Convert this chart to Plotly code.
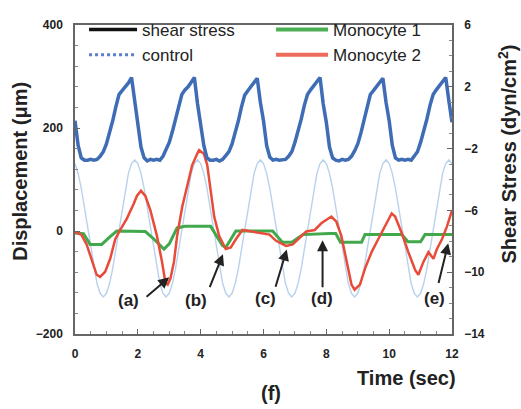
import plotly.graph_objects as go

# ---------------- data ----------------
time_grid = [i / 10 for i in range(121)]

shear_stress = [
    -0.2, -1.8, -2.6, -2.75, -2.75, -2.7, -2.75, -2.7, -2.5, -2.2, -1.7, -1.0, -0.2, 0.7, 1.5, 1.75, 2.0, 2.25, 2.6, 1.0,
    -0.3, -1.9, -2.6, -2.8, -2.7, -2.75, -2.7, -2.75, -2.5, -2.1, -1.6, -0.9, -0.1, 0.8, 1.5, 1.8, 2.0, 2.3, 2.6, 0.9,
    -0.3, -1.8, -2.6, -2.75, -2.75, -2.7, -2.8, -2.7, -2.45, -2.2, -1.7, -1.0, -0.2, 0.7, 1.45, 1.75, 2.05, 2.25, 2.55, 1.0,
    -0.2, -1.8, -2.55, -2.75, -2.7, -2.75, -2.75, -2.7, -2.5, -2.2, -1.6, -0.9, -0.1, 0.8, 1.5, 1.8, 2.1, 2.35, 2.6, 0.9,
    -0.3, -1.9, -2.6, -2.75, -2.8, -2.7, -2.75, -2.7, -2.5, -2.15, -1.7, -1.0, -0.2, 0.7, 1.5, 1.75, 2.0, 2.25, 2.55, 1.0,
    -0.2, -1.8, -2.6, -2.75, -2.7, -2.75, -2.7, -2.75, -2.5, -2.2, -1.6, -0.9, -0.1, 0.8, 1.5, 1.8, 2.05, 2.3, 2.6, 1.1,
    -0.3,
]

control = [
    131, 112, 83, 46, 5, -36, -73, -102, -121, -128, -121, -102, -73, -36, 5, 46, 83, 112, 131, 138,
    131, 112, 83, 46, 5, -36, -73, -102, -121, -128, -121, -102, -73, -36, 5, 46, 83, 112, 131, 138,
    131, 112, 83, 46, 5, -36, -73, -102, -121, -128, -121, -102, -73, -36, 5, 46, 83, 112, 131, 138,
    131, 112, 83, 46, 5, -36, -73, -102, -121, -128, -121, -102, -73, -36, 5, 46, 83, 112, 131, 138,
    131, 112, 83, 46, 5, -36, -73, -102, -121, -128, -121, -102, -73, -36, 5, 46, 83, 112, 131, 138,
    131, 112, 83, 46, 5, -36, -73, -102, -121, -128, -121, -102, -73, -36, 5, 46, 83, 112, 131, 138,
    131,
]

mono1_t = [0.0, 0.27, 0.48, 0.85, 1.1, 1.33, 2.24, 2.5, 2.83, 3.0, 3.25, 3.5, 4.32, 4.69, 4.8, 5.12,
           6.29, 6.6, 6.9, 7.25, 8.1, 8.3, 8.45, 9.12, 9.23, 10.4, 10.6, 11.0, 11.14, 12.0]
mono1_y = [-4, -5, -26, -26, -12, 0, -1, -15, -35, -25, 6, 9, 9, -28, -32, 0,
           0, -22, -22, -7, -5, -5, -22, -22, -7, -7, -21, -21, -7, -7]

mono2_t = [0.0, 0.2, 0.37, 0.53, 0.69, 0.8, 0.96, 1.12, 1.28, 1.44, 1.65, 1.87, 1.97, 2.1, 2.24, 2.4,
           2.61, 2.77, 2.88, 2.95, 3.04, 3.15, 3.25, 3.41, 3.57, 3.73, 3.89, 3.95, 4.1, 4.21, 4.32,
           4.43, 4.59, 4.8, 4.96, 5.12, 5.33, 5.65, 5.97, 6.19, 6.4, 6.72, 6.93, 7.15, 7.36, 7.63,
           7.84, 8.16, 8.32, 8.48, 8.64, 8.8, 8.9, 9.07, 9.23, 9.44, 9.65, 9.87, 10.08, 10.19, 10.4,
           10.61, 10.83, 10.93, 11.09, 11.25, 11.41, 11.52, 11.68, 11.84, 12.0]
mono2_y = [-3, -7, -26, -54, -85, -89, -79, -54, -16, 2, 24, 53, 68, 78, 68, 40,
           -10, -60, -101, -104, -92, -60, -10, 46, 90, 128, 150, 157, 150, 128, 78,
           28, -10, -35, -32, -16, 2, -1, -4, -7, -19, -29, -26, -13, -1, 2,
           15, 28, 18, -10, -54, -104, -114, -104, -73, -41, -16, 9, 34, 28, -4,
           -41, -76, -85, -60, -41, -54, -35, -16, 9, 40]

# annotation labels: text position, arrow tail and arrow head (data units)
marker_labels = ["(a)", "(b)", "(c)", "(d)", "(e)"]
label_x = [1.69, 3.85, 6.07, 7.85, 11.43]
label_y = [-134, -134, -132, -132, -132]
tail_x = [2.23, 4.27, 6.37, 7.88, 11.56]
tail_y = [-130, -112, -111, -112, -104]
head_x = [3.0, 4.71, 6.74, 7.88, 11.88]
head_y = [-90, -45, -36, -18, -24]

FONT = "Liberation Sans, Arial, sans-serif"

fig = go.Figure()

# data traces
fig.add_trace(go.Scatter(x=time_grid, y=control, mode="lines",
                         line=dict(color="#b8d2ec", width=1.4), showlegend=False))
fig.add_trace(go.Scatter(x=time_grid, y=shear_stress, mode="lines", yaxis="y2",
                         line=dict(color="#3f6db5", width=3.5), showlegend=False))
fig.add_trace(go.Scatter(x=mono1_t, y=mono1_y, mode="lines",
                         line=dict(color="#42a84c", width=3), showlegend=False))
fig.add_trace(go.Scatter(x=mono2_t, y=mono2_y, mode="lines",
                         line=dict(color="#e84b38", width=2.5), showlegend=False))

# legend entries
fig.add_trace(go.Scatter(x=[None], y=[None], mode="lines", name="shear stress",
                         line=dict(color="#111111", width=3.5), legend="legend"))
fig.add_trace(go.Scatter(x=[None], y=[None], mode="lines", name="control",
                         line=dict(color="#5a7fc8", width=3, dash="dot"), legend="legend"))
fig.add_trace(go.Scatter(x=[None], y=[None], mode="lines", name="Monocyte 1",
                         line=dict(color="#4caf55", width=4), legend="legend2"))
fig.add_trace(go.Scatter(x=[None], y=[None], mode="lines", name="Monocyte 2",
                         line=dict(color="#ee6a5a", width=4), legend="legend2"))

annotations = []
for i in range(len(marker_labels)):
    annotations.append(dict(x=head_x[i], y=head_y[i], ax=tail_x[i], ay=tail_y[i],
                            xref="x", yref="y", axref="x", ayref="y", text="",
                            showarrow=True, arrowhead=2, arrowsize=1.1, arrowwidth=2,
                            arrowcolor="#222222", standoff=0, startstandoff=0))
    annotations.append(dict(x=label_x[i], y=label_y[i], xref="x", yref="y",
                            xanchor="center", yanchor="middle",
                            text="<b>%s</b>" % marker_labels[i], showarrow=False,
                            font=dict(family=FONT, size=17, color="#222222")))

annotations += [
    dict(x=-0.146, y=0.528, xref="paper", yref="paper", xanchor="center", yanchor="middle",
         text="<b>Displacement (μm)</b>",
         textangle=-90, showarrow=False, font=dict(family=FONT, size=20, color="#222222")),
    dict(x=1.146, y=0.581, xref="paper", yref="paper", xanchor="center", yanchor="middle",
         text="<b>Shear Stress (dyn/cm<sup>2</sup>)</b>",
         textangle=-90, showarrow=False, font=dict(family=FONT, size=20, color="#222222")),
    dict(x=0.8806, y=-0.144, xref="paper", yref="paper", xanchor="center", yanchor="middle",
         text="<b>Time (sec)</b>",
         showarrow=False, font=dict(family=FONT, size=20, color="#222222")),
    dict(x=0.52, y=-0.19, xref="paper", yref="paper", xanchor="center", yanchor="middle",
         text="<b>(f)</b>",
         showarrow=False, font=dict(family=FONT, size=20, color="#222222")),
]

tickfont = dict(family=FONT, size=12, color="#222222", weight="bold")
axis_common = dict(showgrid=False, zeroline=False, showline=True, linecolor="#666666",
                   linewidth=1.5, ticks="inside", ticklen=5, tickcolor="#666666",
                   tickfont=tickfont)

fig.update_layout(
    width=521, height=409,
    margin=dict(l=75, r=69, t=14, b=75),
    paper_bgcolor="white", plot_bgcolor="white",
    font=dict(family=FONT, color="#222222"),
    xaxis=dict(range=[0, 12], tickvals=[0, 2, 4, 6, 8, 10, 12], mirror=True,
               ticklabelstandoff=8,
               minor=dict(dtick=0.5, ticks="inside", ticklen=3, tickcolor="#888888"),
               **axis_common),
    yaxis=dict(range=[-200, 400], tickvals=[-200, 0, 200, 400], ticklabelstandoff=8,
               minor=dict(dtick=40, ticks="inside", ticklen=3, tickcolor="#888888"),
               **axis_common),
    yaxis2=dict(range=[-14, 6], tickvals=[-14, -10, -6, -2, 2, 6], overlaying="y", side="right",
                ticklabelstandoff=8,
                minor=dict(dtick=1, ticks="inside", ticklen=3, tickcolor="#888888"),
                **axis_common),
    legend=dict(x=0.024, y=1.042, xanchor="left", yanchor="top", bgcolor="rgba(0,0,0,0)",
                itemwidth=48, font=dict(family=FONT, size=17, color="#222222"),
                tracegroupgap=0),
    legend2=dict(x=0.52, y=1.042, xanchor="left", yanchor="top", bgcolor="rgba(0,0,0,0)",
                 itemwidth=52, font=dict(family=FONT, size=17, color="#222222"),
                 tracegroupgap=0),
    annotations=annotations,
)

fig.write_html("out.html")
